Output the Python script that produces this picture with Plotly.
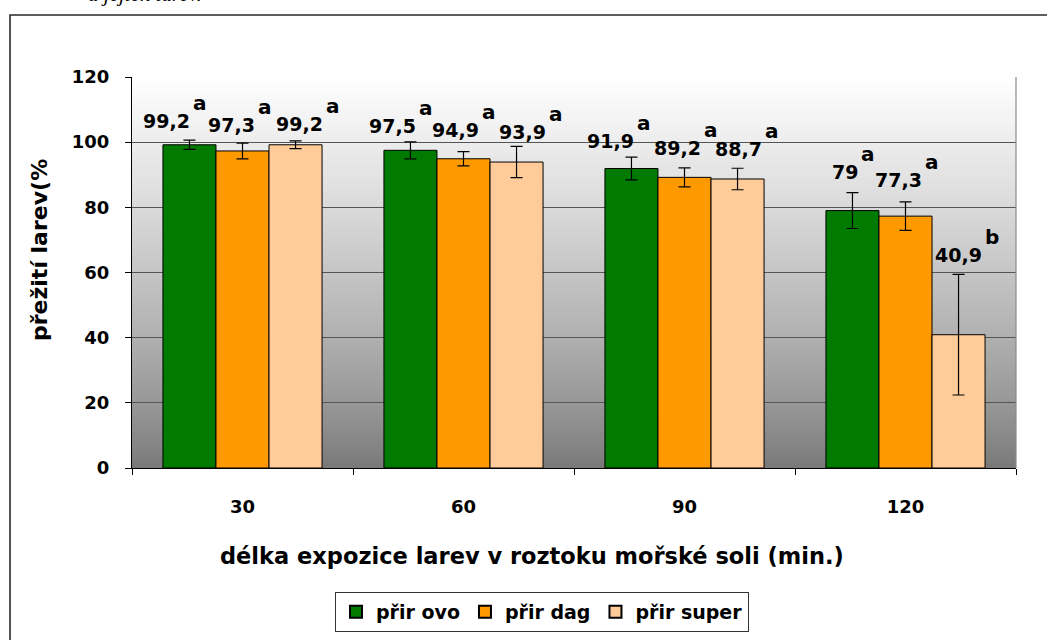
import plotly.graph_objects as go

# ---------------- data ----------------
categories = ["30", "60", "90", "120"]
series_names = ["přir ovo", "přir dag", "přir super"]
ovo = [99.2, 97.5, 91.9, 79.0]
dag = [97.3, 94.9, 89.2, 77.3]
sup = [99.2, 93.9, 88.7, 40.9]
ovo_err = [1.4, 2.6, 3.5, 5.5]
dag_err = [2.4, 2.2, 2.9, 4.4]
sup_err = [1.2, 4.8, 3.3, 18.5]
ovo_letters = ["a", "a", "a", "a"]
dag_letters = ["a", "a", "a", "a"]
sup_letters = ["a", "a", "a", "b"]
y_ticks = [0, 20, 40, 60, 80, 100, 120]

x_title = "délka expozice larev v roztoku mořské soli (min.)"
y_title = "přežití larev(%"
caption_fragment = "a jejich larev."

# ---------------- styles / layout ----------------
colors = ["#007a00", "#ff9900", "#ffcc99"]
W, H = 1047, 640
L, R, T, B = 132, 1016, 77, 468          # plot area in px
bargap = 0.28
FONT = "DejaVu Sans"
# label nudges (px): junction of number/letter from bar centre, gap above error bar
label_dx = [[2, 7, 4, 7], [13, 16, 17, 17], [28, 30, 25, 24]]
label_gap = [[12, 8, 9, 13], [11, 14, 12, 14], [9, 7, 12, 12]]

def px_x(p):
    return (p - L) / (R - L)

def px_y(p):
    return (B - p) / (B - T)

values = [ovo, dag, sup]
errs = [ovo_err, dag_err, sup_err]
letters = [ovo_letters, dag_letters, sup_letters]

fig = go.Figure()
for j in range(3):
    fig.add_trace(go.Bar(
        name=series_names[j], x=categories, y=values[j],
        marker=dict(color=colors[j], line=dict(color="black", width=1)),
        error_y=dict(type="data", array=errs[j], color="black", thickness=1.2, width=6),
    ))

bw = (1 - bargap) / 3
ann = []
for j in range(3):
    for i in range(4):
        v = values[j][i]
        top = v + errs[j][i]
        xc = i + (j - 1) * bw
        txt = f"{v:g}".replace(".", ",")
        ann.append(dict(x=xc, y=top, xref="x", yref="y", text=txt, showarrow=False,
                        xanchor="right", yanchor="bottom", borderpad=0,
                        xshift=label_dx[j][i], yshift=label_gap[j][i] - 4.5,
                        font=dict(family=FONT, size=19, color="black", weight="bold")))
        ann.append(dict(x=xc, y=top, xref="x", yref="y", text=letters[j][i], showarrow=False,
                        xanchor="left", yanchor="bottom", borderpad=0,
                        xshift=label_dx[j][i] + 1, yshift=label_gap[j][i] + 17 - 4.5,
                        font=dict(family=FONT, size=20, color="black", weight="bold")))

ann.append(dict(x=px_x(532), y=px_y(556), xref="paper", yref="paper", text=x_title,
                showarrow=False, xanchor="center", yanchor="middle",
                font=dict(family=FONT, size=22.5, color="black", weight="bold")))
ann.append(dict(x=px_x(40), y=px_y(250), xref="paper", yref="paper", text=y_title,
                showarrow=False, xanchor="center", yanchor="middle", textangle=-90,
                font=dict(family=FONT, size=22, color="black", weight="bold")))
ann.append(dict(x=px_x(203), y=px_y(7), xref="paper", yref="paper", text=caption_fragment,
                showarrow=False, xanchor="right", yanchor="bottom", borderpad=0,
                font=dict(family="Liberation Serif", size=21, color="black", style="italic")))

# gradient plot background (white at top to gray at bottom)
shapes = []
n = 120
for k in range(n):
    t0 = k / n
    t = (k + 0.5) / n
    g = int(round(119 + 136 * t ** 0.8))
    shapes.append(dict(type="rect", xref="paper", yref="paper", x0=0, x1=1,
                       y0=t0, y1=min(1.0, (k + 1) / n + 0.004), line=dict(width=0),
                       fillcolor=f"rgb({g},{g},{g})", layer="below"))
# right border of plot area
shapes.append(dict(type="line", xref="paper", yref="paper", x0=1, x1=1, y0=0, y1=1,
                   line=dict(color="#8a8a8a", width=1.2), layer="above"))
# outer chart frame (cropped in the picture)
shapes.append(dict(type="rect", xref="paper", yref="paper",
                   x0=px_x(10), x1=px_x(1070), y0=px_y(670), y1=px_y(15),
                   line=dict(color="#2a2a2a", width=1.6), fillcolor="rgba(0,0,0,0)", layer="above"))

fig.update_layout(
    width=W, height=H,
    margin=dict(l=L, r=W - R, t=T, b=H - B, autoexpand=False),
    paper_bgcolor="white", plot_bgcolor="white",
    barmode="group", bargap=bargap, bargroupgap=0,
    font=dict(family=FONT, color="black"),
    showlegend=True,
    legend=dict(orientation="h", x=px_x(542), xanchor="center", y=px_y(592), yanchor="top",
                bordercolor="#333333", borderwidth=1, bgcolor="white",
                font=dict(family=FONT, size=19, color="black", weight="bold"),
                itemsizing="constant", tracegroupgap=0),
    annotations=ann, shapes=shapes,
    xaxis=dict(type="category", tickson="boundaries", ticks="outside", ticklen=6,
               tickcolor="black", showline=True, linecolor="black", linewidth=1,
               showgrid=False, zeroline=False, ticklabelstandoff=22,
               tickfont=dict(family=FONT, size=18, color="black", weight="bold")),
    yaxis=dict(range=[0, 120], tickvals=y_ticks, ticks="outside", ticklen=6,
               tickcolor="black", showline=True, linecolor="black", linewidth=1,
               showgrid=True, gridcolor="#555555", gridwidth=1, zeroline=False,
               ticklabelstandoff=12,
               tickfont=dict(family=FONT, size=18, color="black", weight="bold")),
)

fig.write_html("out.html", config={"displayModeBar": False},
               post_script="document.body.style.margin='0';document.body.style.overflow='hidden';")
